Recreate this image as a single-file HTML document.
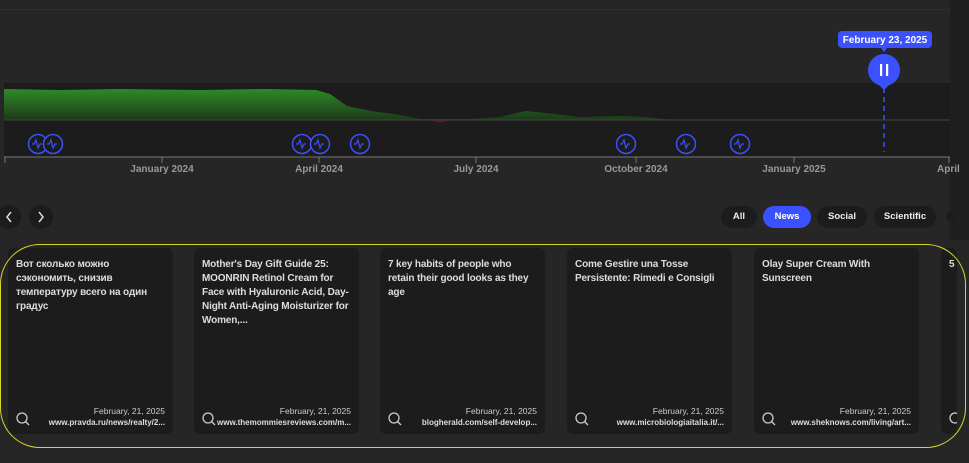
<!DOCTYPE html>
<html><head><meta charset="utf-8"><style>
body{margin:0;width:969px;height:463px;background:#262626;overflow:hidden;font-family:"Liberation Sans","Noto Sans CJK SC",sans-serif;position:relative}
.abs{position:absolute}
.card{position:absolute;top:248px;width:165px;height:186px;background:#1c1c1c;border-radius:6px;color:#ddd;overflow:hidden}
.card .t{position:absolute;left:8px;top:10px;width:152px;font-size:10px;font-weight:bold;line-height:14px;letter-spacing:-0.15px}
.card .d{position:absolute;right:8px;top:158px;font-size:8.5px;color:#ccc;text-align:right}
.card .u{position:absolute;right:8px;top:170px;font-size:8px;font-weight:bold;color:#ddd;white-space:nowrap}
.card svg{position:absolute;left:8px;top:164px}
.pill{position:absolute;top:206px;height:22px;border-radius:11px;background:#1c1c1c;color:#eee;font-size:9.5px;font-weight:bold;text-align:center;line-height:22px}
.lbl{position:absolute;top:164px;font-size:10px;color:#999;font-weight:bold;transform:translateX(-50%);white-space:nowrap}
</style></head><body>
<div class="abs" style="left:0;top:9px;width:950px;height:1px;background:#2e2e2e"></div>
<div class="abs" style="left:950px;top:0;width:19px;height:240px;background:#1f1f1f"></div>
<svg class="abs" style="left:0;top:0" width="969" height="240">
<defs><linearGradient id="g" x1="0" y1="0" x2="0" y2="1"><stop offset="0" stop-color="#2e8a26"/><stop offset="1" stop-color="#1c3a1a"/></linearGradient></defs>
<rect x="4" y="83" width="946" height="74" fill="#1c1c1c"/>
<path d="M4,120 L4,89 L60,90 L120,89 L200,90 L266,89 L316,90 L330,94 L347,106 L371,111 L400,115 L421,119 L470,119 L500,117 L526,111 L545,113 L580,117 L620,116 L644,117 L675,120 Z" fill="url(#g)"/>
<path d="M430,120 L440,123 L450,120 Z" fill="#5a1a1a"/>
<line x1="4" y1="120" x2="950" y2="120" stroke="#444" stroke-width="1"/>
<line x1="4" y1="157" x2="950" y2="157" stroke="#777" stroke-width="1"/>
<g stroke="#777"><line x1="5" y1="157" x2="5" y2="163"/><line x1="162" y1="157" x2="162" y2="163"/><line x1="319" y1="157" x2="319" y2="163"/><line x1="476" y1="157" x2="476" y2="163"/><line x1="636" y1="157" x2="636" y2="163"/><line x1="794" y1="157" x2="794" y2="163"/><line x1="949" y1="157" x2="949" y2="163"/></g>
<g fill="#1c1c1c" stroke="#3b50ff" stroke-width="1.5">
<circle cx="38" cy="144" r="9.5"/><circle cx="53" cy="144" r="9.5"/><circle cx="302" cy="144" r="9.5"/><circle cx="320" cy="144" r="9.5"/><circle cx="360" cy="144" r="9.5"/><circle cx="626" cy="144" r="9.5"/><circle cx="686" cy="144" r="9.5"/><circle cx="740" cy="144" r="9.5"/></g>
<g fill="none" stroke="#3b50ff" stroke-width="1.2">
<path d="M32,144 h2 l2,-4 l2,8 l2,-4 h2"/><path d="M47,144 h2 l2,-4 l2,8 l2,-4 h2"/><path d="M296,144 h2 l2,-4 l2,8 l2,-4 h2"/><path d="M314,144 h2 l2,-4 l2,8 l2,-4 h2"/><path d="M354,144 h2 l2,-4 l2,8 l2,-4 h2"/><path d="M620,144 h2 l2,-4 l2,8 l2,-4 h2"/><path d="M680,144 h2 l2,-4 l2,8 l2,-4 h2"/><path d="M734,144 h2 l2,-4 l2,8 l2,-4 h2"/></g>
<line x1="884" y1="88" x2="884" y2="152" stroke="#3b50ff" stroke-width="1.5" stroke-dasharray="5,4"/>
<circle cx="884" cy="70" r="16" fill="#3b50ff"/><path d="M878,84 L884,90 L890,84 Z" fill="#3b50ff"/>
<rect x="880" y="64" width="2.2" height="12" fill="#fff"/><rect x="886" y="64" width="2.2" height="12" fill="#fff"/>
<rect x="838" y="31" width="94" height="17" rx="4" fill="#3b50ff"/><path d="M881,48 L884,52 L887,48 Z" fill="#3b50ff"/>
<text x="885" y="43" fill="#fff" font-size="10" font-weight="bold" text-anchor="middle" font-family="Liberation Sans">February 23, 2025</text>
<circle cx="9" cy="217" r="12" fill="#1c1c1c"/><circle cx="41" cy="217" r="12" fill="#1c1c1c"/>
<path d="M11,212 l-4,5 l4,5" stroke="#ddd" stroke-width="1.5" fill="none"/><path d="M39,212 l4,5 l-4,5" stroke="#ddd" stroke-width="1.5" fill="none"/>
<circle cx="951" cy="217" r="5" fill="#1c1c1c"/>
</svg>
<div class="lbl" style="left:162px">January 2024</div>
<div class="lbl" style="left:319px">April 2024</div>
<div class="lbl" style="left:476px">July 2024</div>
<div class="lbl" style="left:636px">October 2024</div>
<div class="lbl" style="left:794px">January 2025</div>
<div class="lbl" style="left:937px;transform:none">April</div>
<div class="pill" style="left:721px;width:36px">All</div>
<div class="pill" style="left:763px;width:48px;background:#3b50ff;color:#fff">News</div>
<div class="pill" style="left:817px;width:50px">Social</div>
<div class="pill" style="left:874px;width:62px">Scientific</div>

<div class="card" style="left:8px"><div class="t">Вот сколько можно сэкономить, снизив температуру всего на один градус</div><svg width="14" height="14"><circle cx="6" cy="6" r="5" stroke="#ccc" stroke-width="1.3" fill="none"/><line x1="9.5" y1="9.5" x2="13" y2="13" stroke="#ccc" stroke-width="1.3"/></svg><div class="d">February, 21, 2025</div><div class="u">www.pravda.ru/news/realty/2...</div></div>
<div class="card" style="left:194px"><div class="t">Mother's Day Gift Guide 25: MOONRIN Retinol Cream for Face with Hyaluronic Acid, Day-Night Anti-Aging Moisturizer for Women,...</div><svg width="14" height="14"><circle cx="6" cy="6" r="5" stroke="#ccc" stroke-width="1.3" fill="none"/><line x1="9.5" y1="9.5" x2="13" y2="13" stroke="#ccc" stroke-width="1.3"/></svg><div class="d">February, 21, 2025</div><div class="u">www.themommiesreviews.com/m...</div></div>
<div class="card" style="left:380px"><div class="t">7 key habits of people who retain their good looks as they age</div><svg width="14" height="14"><circle cx="6" cy="6" r="5" stroke="#ccc" stroke-width="1.3" fill="none"/><line x1="9.5" y1="9.5" x2="13" y2="13" stroke="#ccc" stroke-width="1.3"/></svg><div class="d">February, 21, 2025</div><div class="u">blogherald.com/self-develop...</div></div>
<div class="card" style="left:567px"><div class="t">Come Gestire una Tosse Persistente: Rimedi e Consigli</div><svg width="14" height="14"><circle cx="6" cy="6" r="5" stroke="#ccc" stroke-width="1.3" fill="none"/><line x1="9.5" y1="9.5" x2="13" y2="13" stroke="#ccc" stroke-width="1.3"/></svg><div class="d">February, 21, 2025</div><div class="u">www.microbiologiaitalia.it/...</div></div>
<div class="card" style="left:754px"><div class="t">Olay Super Cream With Sunscreen</div><svg width="14" height="14"><circle cx="6" cy="6" r="5" stroke="#ccc" stroke-width="1.3" fill="none"/><line x1="9.5" y1="9.5" x2="13" y2="13" stroke="#ccc" stroke-width="1.3"/></svg><div class="d">February, 21, 2025</div><div class="u">www.sheknows.com/living/art...</div></div>
<div class="card" style="left:941px;width:16px"><div class="t">5 Sl &amp;</div><svg width="14" height="14"><circle cx="6" cy="6" r="5" stroke="#ccc" stroke-width="1.3" fill="none"/></svg></div>
<div class="abs" style="left:958px;top:240px;width:11px;height:223px;background:#262626"></div>
<div class="abs" style="left:0;top:244px;width:964px;height:202px;border:1.3px solid #d6d62a;border-radius:40px;"></div>
</body></html>
